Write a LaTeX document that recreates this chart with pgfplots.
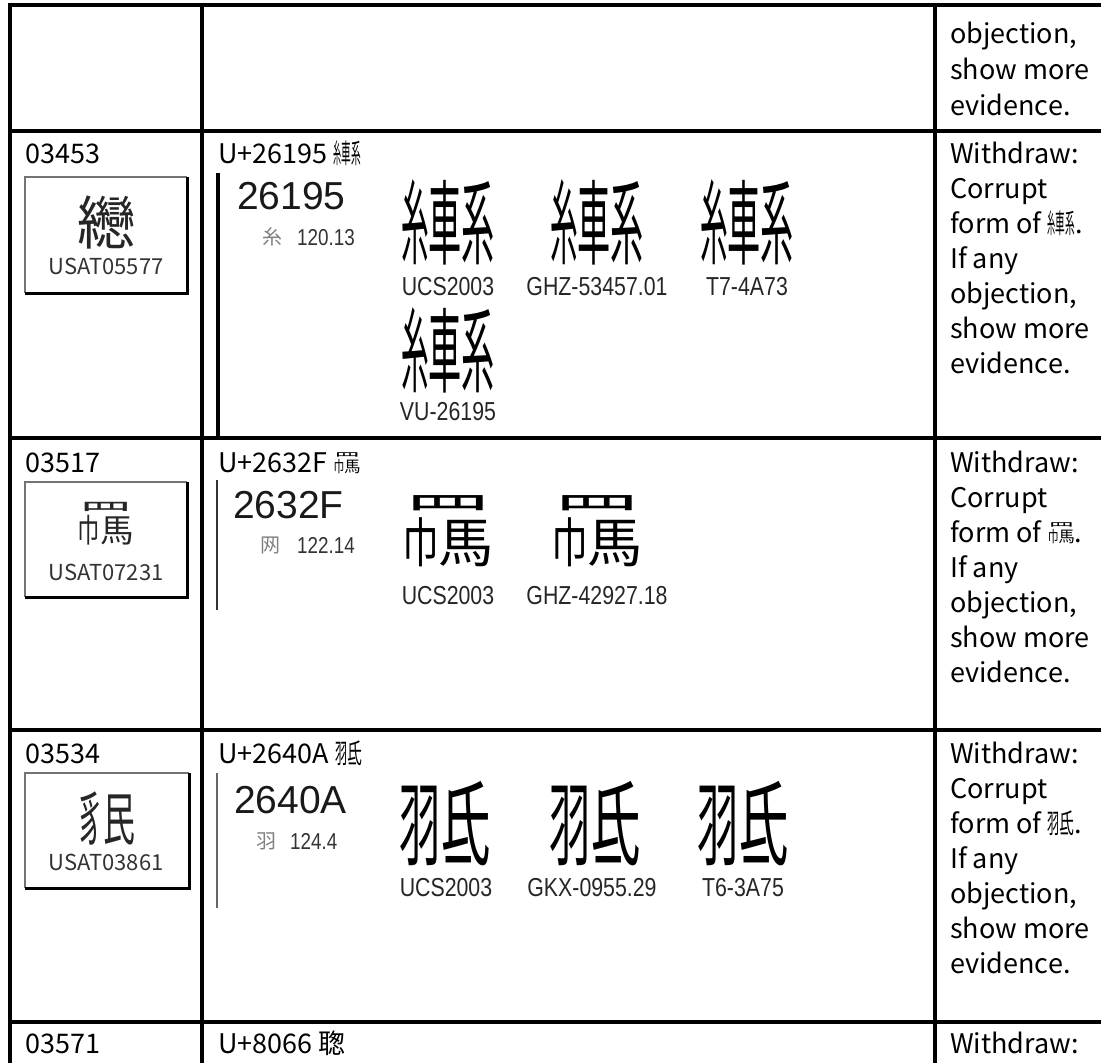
\documentclass[border=0pt]{standalone}
\usepackage{fontspec}
\usepackage{graphicx}
\usepackage{pgfplots}
\pgfplotsset{compat=1.18}
\setmainfont{Noto Sans CJK JP}
\newfontfamily\jpf{Noto Sans CJK JP}
\newfontfamily\tcf{Noto Sans CJK TC}
\newfontfamily\scf{Noto Sans CJK SC}
\newfontfamily\krf{Noto Sans CJK KR}
\newfontfamily\arial{Liberation Sans}

\newcommand\TryChar[2]{{\tcf\iffontchar\font#1\relax\char#1\relax\else\jpf\iffontchar\font#1\relax\char#1\relax\else\scf\iffontchar\font#1\relax\char#1\relax\else\krf\iffontchar\font#1\relax\char#1\relax\else#2\fi\fi\fi\fi}}
\newcommand\CompA{\mbox{\scalebox{0.3}[1]{糸}\scalebox{0.36}[1]{車}\scalebox{0.36}[1]{系}}}
\newcommand\CompB{\vbox{\offinterlineskip\hbox{\hspace*{0.03em}\scalebox{0.95}[0.42]{罒}}\vskip-0.09em\hbox{\scalebox{0.4}[0.58]{巾}\scalebox{0.6}[0.58]{馬}}}}
\newcommand\CompC{\mbox{\scalebox{0.45}[1]{羽}\scalebox{0.55}[1]{氐}}}
\newcommand\GA{\TryChar{"26195}{\CompA}}
\newcommand\GB{\TryChar{"2632F}{\CompB}}
\newcommand\GC{\TryChar{"2640A}{\CompC}}
\newcommand\UA{\mbox{\scalebox{0.45}[1]{豸}\scalebox{0.55}[1]{民}}}

\newcommand\MainFont{\fontsize{27bp}{35bp}\selectfont}
\newcommand\Txt[4][]{\node[anchor=base west,inner sep=0pt,font=\MainFont,#1] at (axis cs:#2,#3) {#4};}
\newcommand\Narrow[1]{\scalebox{0.82}[1]{#1}}

\begin{document}
\begin{tikzpicture}
\begin{axis}[
  at={(0,0)}, anchor=south west,
  x=1bp, y=1bp, y dir=reverse,
  xmin=0, xmax=1104, ymin=0, ymax=1063,
  hide axis, clip=false]

% ---- table rules ----
\addplot[black, line width=3.3bp, forget plot] coordinates {(10,5) (1101,5)};
\addplot[black, line width=3.3bp, forget plot] coordinates {(10,131) (1101,131)};
\addplot[black, line width=3.3bp, forget plot] coordinates {(10,438) (1101,438)};
\addplot[black, line width=3.3bp, forget plot] coordinates {(10,730) (1101,730)};
\addplot[black, line width=3.3bp, forget plot] coordinates {(10,1022) (1101,1022)};
\addplot[black, line width=3.3bp, forget plot] coordinates {(10,3.4) (10,1063)};
\addplot[black, line width=3.3bp, forget plot] coordinates {(202,3.4) (202,1063)};
\addplot[black, line width=3.3bp, forget plot] coordinates {(935,3.4) (935,1063)};

% ---- row 1 (partial) ----
\Txt{950}{43}{objection,}
\Txt{950}{79}{show more}
\Txt{950}{115}{evidence.}

% ---- row 2 ----
\Txt{25}{163}{03453}
\addplot[black!55, line width=1.5bp, forget plot] coordinates {(187,177) (25,177) (25,293)};
\addplot[black, line width=3bp, forget plot] coordinates {(25,293) (187,293) (187,177)};
\node[font=\fontsize{58bp}{60bp}\selectfont, text=black!85] at (axis cs:106,222) {纞};
\node[font=\fontsize{22bp}{24bp}\selectfont, text=black!80, inner sep=0pt] at (axis cs:106,266) {USAT05577};
\Txt{218}{163}{U+26195 \GA}
\addplot[black, line width=4bp, forget plot] coordinates {(218,173) (218,438)};
\Txt[font=\arial\fontsize{39bp}{40bp}\selectfont, text=black!90]{237}{209}{26195}
\node[font=\fontsize{20bp}{22bp}\selectfont, text=black!50] at (axis cs:272,237) {糸};
\Txt[font=\arial\fontsize{23bp}{24bp}\selectfont, text=black!80]{297}{245}{\Narrow{120.13}}
\node[font=\fontsize{92bp}{94bp}\selectfont] at (axis cs:448,222) {\GA};
\node[font=\fontsize{92bp}{94bp}\selectfont] at (axis cs:597,222) {\GA};
\node[font=\fontsize{92bp}{94bp}\selectfont] at (axis cs:747,222) {\GA};
\node[font=\fontsize{92bp}{94bp}\selectfont] at (axis cs:448,350) {\GA};
\node[font=\arial\fontsize{26bp}{28bp}\selectfont, inner sep=0pt, text=black!85] at (axis cs:448,287) {\Narrow{UCS2003}};
\node[font=\arial\fontsize{26bp}{28bp}\selectfont, inner sep=0pt, text=black!85] at (axis cs:597,287) {\Narrow{GHZ-53457.01}};
\node[font=\arial\fontsize{26bp}{28bp}\selectfont, inner sep=0pt, text=black!85] at (axis cs:747,287) {\Narrow{T7-4A73}};
\node[font=\arial\fontsize{26bp}{28bp}\selectfont, inner sep=0pt, text=black!85] at (axis cs:448,412) {\Narrow{VU-26195}};
\Txt{950}{163}{Withdraw:}
\Txt{950}{198}{Corrupt}
\Txt{950}{233}{form of \GA.}
\Txt{950}{268}{If any}
\Txt{950}{303}{objection,}
\Txt{950}{338}{show more}
\Txt{950}{373}{evidence.}

% ---- row 3 ----
\Txt{25}{472}{03517}
\addplot[black!55, line width=1.5bp, forget plot] coordinates {(187,482) (25,482) (25,597)};
\addplot[black, line width=3bp, forget plot] coordinates {(25,597) (187,597) (187,482)};
\node[font=\fontsize{56bp}{58bp}\selectfont, text=black!85] at (axis cs:106,524) {\GB};
\node[font=\fontsize{22bp}{24bp}\selectfont, text=black!80, inner sep=0pt] at (axis cs:106,572) {USAT07231};
\Txt{218}{472}{U+2632F \GB}
\addplot[black!80, line width=2.5bp, forget plot] coordinates {(217,480) (217,610)};
\Txt[font=\arial\fontsize{39bp}{40bp}\selectfont, text=black!90]{233}{518}{2632F}
\node[font=\fontsize{20bp}{22bp}\selectfont, text=black!50] at (axis cs:270,545) {网};
\Txt[font=\arial\fontsize{23bp}{24bp}\selectfont, text=black!80]{297}{553}{\Narrow{122.14}}
\node[font=\fontsize{92bp}{94bp}\selectfont] at (axis cs:448,531) {\GB};
\node[font=\fontsize{92bp}{94bp}\selectfont] at (axis cs:597,531) {\GB};
\node[font=\arial\fontsize{26bp}{28bp}\selectfont, inner sep=0pt, text=black!85] at (axis cs:448,596) {\Narrow{UCS2003}};
\node[font=\arial\fontsize{26bp}{28bp}\selectfont, inner sep=0pt, text=black!85] at (axis cs:597,596) {\Narrow{GHZ-42927.18}};
\Txt{950}{472}{Withdraw:}
\Txt{950}{507}{Corrupt}
\Txt{950}{542}{form of \GB.}
\Txt{950}{577}{If any}
\Txt{950}{612}{objection,}
\Txt{950}{647}{show more}
\Txt{950}{682}{evidence.}

% ---- row 4 ----
\Txt{25}{763}{03534}
\addplot[black!55, line width=1.5bp, forget plot] coordinates {(189,773) (25,773) (25,888)};
\addplot[black, line width=3bp, forget plot] coordinates {(25,888) (189,888) (189,773)};
\node[font=\fontsize{58bp}{60bp}\selectfont, text=black!85] at (axis cs:106,818) {\UA};
\node[font=\fontsize{22bp}{24bp}\selectfont, text=black!80, inner sep=0pt] at (axis cs:106,862) {USAT03861};
\Txt{218}{763}{U+2640A \GC}
\addplot[black!60, line width=1.5bp, forget plot] coordinates {(217,773) (217,908)};
\Txt[font=\arial\fontsize{39bp}{40bp}\selectfont, text=black!90]{234}{813}{2640A}
\node[font=\fontsize{20bp}{22bp}\selectfont, text=black!50] at (axis cs:266,841) {羽};
\Txt[font=\arial\fontsize{23bp}{24bp}\selectfont, text=black!80]{290}{849}{\Narrow{124.4}}
\node[font=\fontsize{92bp}{94bp}\selectfont] at (axis cs:445,824) {\GC};
\node[font=\fontsize{92bp}{94bp}\selectfont] at (axis cs:595,824) {\GC};
\node[font=\fontsize{92bp}{94bp}\selectfont] at (axis cs:743,824) {\GC};
\node[font=\arial\fontsize{26bp}{28bp}\selectfont, inner sep=0pt, text=black!85] at (axis cs:446,888) {\Narrow{UCS2003}};
\node[font=\arial\fontsize{26bp}{28bp}\selectfont, inner sep=0pt, text=black!85] at (axis cs:592,888) {\Narrow{GKX-0955.29}};
\node[font=\arial\fontsize{26bp}{28bp}\selectfont, inner sep=0pt, text=black!85] at (axis cs:743,888) {\Narrow{T6-3A75}};
\Txt{950}{763}{Withdraw:}
\Txt{950}{798}{Corrupt}
\Txt{950}{833}{form of \GC.}
\Txt{950}{868}{If any}
\Txt{950}{903}{objection,}
\Txt{950}{938}{show more}
\Txt{950}{973}{evidence.}

% ---- row 5 (partial) ----
\Txt{25}{1053}{03571}
\Txt{218}{1053}{U+8066 聦}
\Txt{950}{1053}{Withdraw:}
\end{axis}
\pgfresetboundingbox
\useasboundingbox (0,0) rectangle (1104bp,1063bp);
\end{tikzpicture}
\end{document}
